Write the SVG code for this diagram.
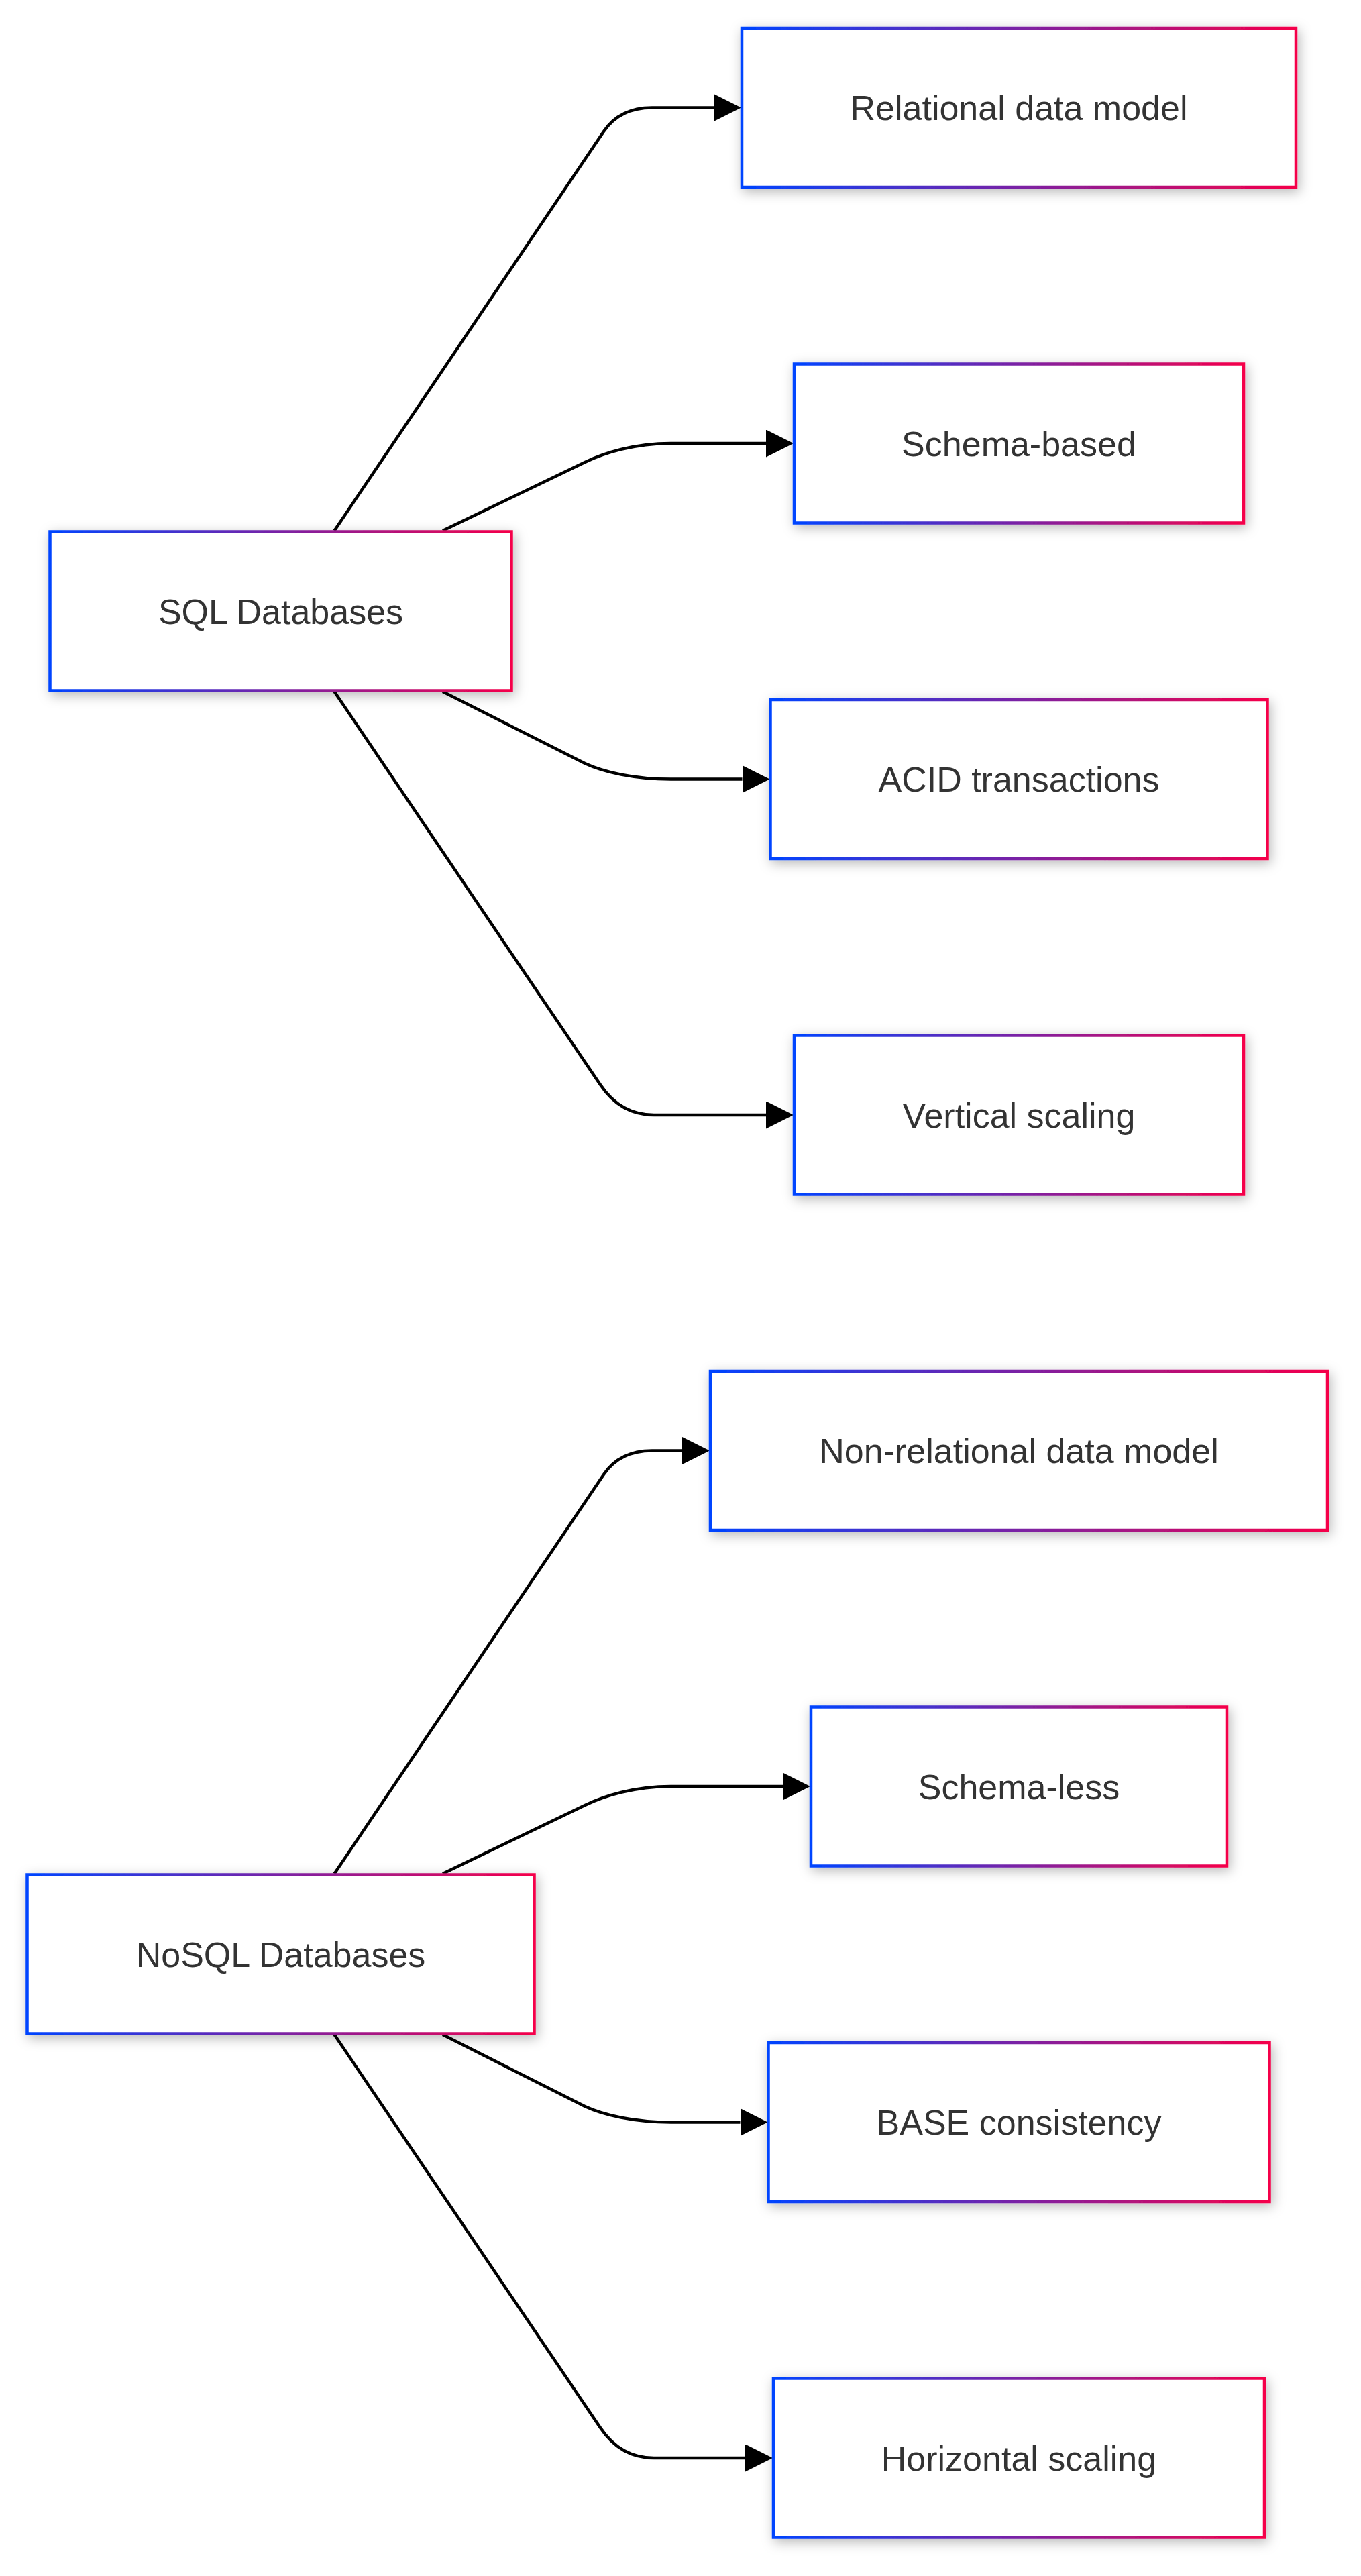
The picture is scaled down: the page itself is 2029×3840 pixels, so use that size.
<svg xmlns="http://www.w3.org/2000/svg" width="2029" height="3840" viewBox="0 0 2029 3840">
<defs>
<linearGradient id="grad" x1="0" y1="0" x2="1" y2="0">
<stop offset="0" stop-color="#0044ff"/>
<stop offset="1" stop-color="#f5004a"/>
</linearGradient>
<filter id="shadow" x="-15%" y="-40%" width="130%" height="180%">
<feDropShadow dx="3" dy="5" stdDeviation="9" flood-color="#000" flood-opacity="0.28"/>
</filter>
<marker id="arrow" markerUnits="userSpaceOnUse" markerWidth="41" markerHeight="41" viewBox="0 0 10 10" refX="0" refY="5" orient="auto">
<path d="M0,0 L10,5 L0,10 z" fill="#000"/>
</marker>
</defs>
<style>
.box{fill:#ffffff;stroke:url(#grad);stroke-width:4.5;filter:url(#shadow);}
.lbl{font-family:"Liberation Sans",Arial,sans-serif;font-size:52px;fill:#333333;text-anchor:middle;}
.edge{fill:none;stroke:#000;stroke-width:4.5;marker-end:url(#arrow);}
</style>
<rect width="2029" height="3840" fill="#ffffff"/>
<g id="connectors">
<path class="edge" d="M 498.5 791 L 900 196 Q 924 160.5 972 160.5 L 1064 160.5"/>
<path class="edge" d="M 660 791 L 872 689 C 900 675.5 945 661 1000 661 L 1142 661"/>
<path class="edge" d="M 660 1031 L 872 1138 C 900 1151 945 1161.5 1000 1161.5 L 1106.5 1161.5"/>
<path class="edge" d="M 498.5 1031 L 895 1617 Q 925 1662 975 1662 L 1142 1662"/>
<path class="edge" d="M 498.5 2793 L 900 2198 Q 924 2162.5 972 2162.5 L 1017 2162.5"/>
<path class="edge" d="M 660 2793 L 872 2691 C 900 2677.5 945 2663 1000 2663 L 1167 2663"/>
<path class="edge" d="M 660 3033 L 872 3140 C 900 3153 945 3163.5 1000 3163.5 L 1103.5 3163.5"/>
<path class="edge" d="M 498.5 3033 L 895 3619 Q 925 3664 975 3664 L 1111 3664"/>
</g>
<g id="sql">
<rect class="box" x="74.5" y="792.5" width="688" height="237"/>
<text class="lbl" x="418.5" y="929.6">SQL Databases</text>
</g>
<g id="relational">
<rect class="box" x="1106" y="42" width="826" height="237"/>
<text class="lbl" x="1519" y="179.1">Relational data model</text>
</g>
<g id="schema-based">
<rect class="box" x="1184" y="542.5" width="670" height="237"/>
<text class="lbl" x="1519" y="679.6">Schema-based</text>
</g>
<g id="acid">
<rect class="box" x="1148.5" y="1043" width="741" height="237"/>
<text class="lbl" x="1519" y="1180.1">ACID transactions</text>
</g>
<g id="vertical">
<rect class="box" x="1184" y="1543.5" width="670" height="237"/>
<text class="lbl" x="1519" y="1680.6">Vertical scaling</text>
</g>
<g id="nosql">
<rect class="box" x="40.5" y="2794.5" width="756" height="237"/>
<text class="lbl" x="418.5" y="2931.6">NoSQL Databases</text>
</g>
<g id="nonrelational">
<rect class="box" x="1059" y="2044" width="920" height="237"/>
<text class="lbl" x="1519" y="2181.1">Non-relational data model</text>
</g>
<g id="schema-less">
<rect class="box" x="1209" y="2544.5" width="620" height="237"/>
<text class="lbl" x="1519" y="2681.6">Schema-less</text>
</g>
<g id="base">
<rect class="box" x="1145.5" y="3045" width="747" height="237"/>
<text class="lbl" x="1519" y="3182.1">BASE consistency</text>
</g>
<g id="horizontal">
<rect class="box" x="1153" y="3545.5" width="732" height="237"/>
<text class="lbl" x="1519" y="3682.6">Horizontal scaling</text>
</g>
</svg>
